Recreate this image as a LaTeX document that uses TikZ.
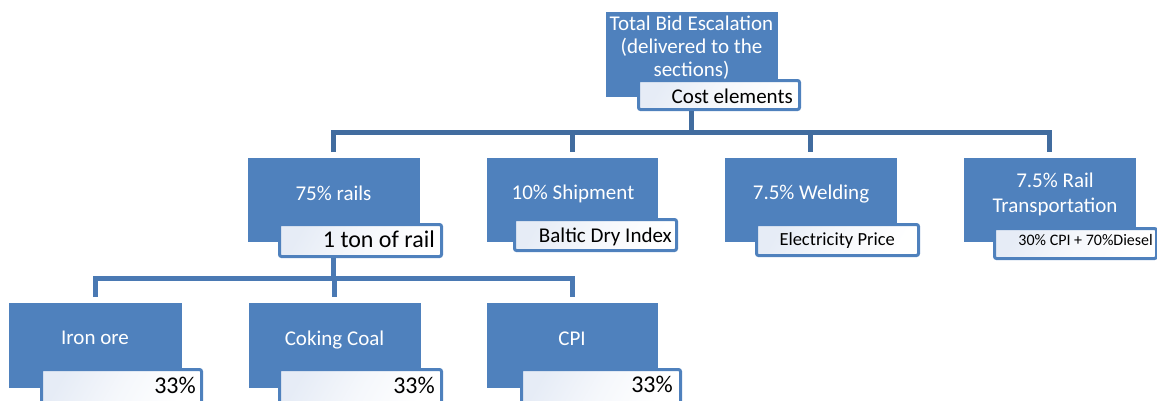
\documentclass[tikz,border=0pt]{standalone}
\usepackage{fontspec}
\setmainfont{Carlito}
\definecolor{boxblue}{HTML}{4F81BD}
\definecolor{busdark}{HTML}{416C9F}
\definecolor{buslight}{HTML}{4A79B3}
\definecolor{tagtint}{HTML}{E6ECF6}
\tikzset{
  box/.style={fill=boxblue, draw=white, line width=0.8pt, inner sep=0pt, anchor=north west},
  boxtext/.style={text=white, inner sep=0pt, font=\fontsize{21}{23}\selectfont},
  tag/.style={draw=boxblue, line width=3pt, rounded corners=2pt, inner sep=0pt,
    top color=tagtint, bottom color=white, middle color=tagtint!40, shading angle=60},
  tagtext/.style={text=black, inner sep=0pt, anchor=base east},
  busA/.style={draw=busdark, line width=5pt},
  busB/.style={draw=buslight, line width=5pt},
}
\begin{document}
\begin{tikzpicture}[x=1pt, y=-1pt]
\useasboundingbox (0,0) rectangle (1157,400);

% ---- top element ----
\node[box, minimum width=173pt, minimum height=86pt] (top) at (605,11) {};
\node[boxtext, anchor=base] (t1) at (691.5,30) {Total Bid Escalation};
\node[boxtext, anchor=base] (t2) at (691.5,53) {(delivered to the};
\node[boxtext, anchor=base] (t3) at (691.5,76) {sections)};
\node[tag, minimum width=161pt, minimum height=29pt] (tagTop) at (719,95) {};
\node[tagtext, font=\fontsize{21}{24}\selectfont] (tagTopT) at (793,103) {Cost elements};

% ---- cost elements ----
\node[box, minimum width=173pt, minimum height=85pt] (rails) at (247,157) {};
\node[box, minimum width=172pt, minimum height=85pt] (ship) at (486,157) {};
\node[box, minimum width=173pt, minimum height=85pt] (weld) at (724,157) {};
\node[box, minimum width=173pt, minimum height=85pt] (railtr) at (963,157) {};

\node[boxtext, anchor=base] (railsT) at (333.5,200) {75\% rails};
\node[boxtext, anchor=base] (shipT) at (573,199) {10\% Shipment};
\node[boxtext, anchor=base] (weldT) at (811,199) {7.5\% Welding};
\node[boxtext, anchor=base] (railtrT1) at (1055,187) {7.5\% Rail};
\node[boxtext, anchor=base] (railtrT2) at (1055,212) {Transportation};

\node[tag, minimum width=162pt, minimum height=32pt] (tagRails) at (360.5,240.5) {};
\node[tag, minimum width=162pt, minimum height=31pt] (tagShip) at (595.5,235) {};
\node[tag, minimum width=162pt, minimum height=31pt] (tagWeld) at (837.5,240) {};
\node[tag, minimum width=162pt, minimum height=30pt] (tagRailtr) at (1075.5,243.5) {};

\node[tagtext, font=\fontsize{24}{27}\selectfont] (tagRailsT) at (435,247) {1 ton of rail};
\node[tagtext, font=\fontsize{21}{24}\selectfont] (tagShipT) at (672,242) {Baltic Dry Index};
\node[tagtext, font=\fontsize{18.5}{21}\selectfont] (tagWeldT) at (895,245) {Electricity Price};
\node[tagtext, font=\fontsize{16}{19}\selectfont] (tagRailtrT) at (1153,245) {30\% CPI + 70\%Diesel};

% ---- rail components ----
\node[box, minimum width=174pt, minimum height=86pt] (iron) at (8,302) {};
\node[box, minimum width=173pt, minimum height=86pt] (coking) at (248,302) {};
\node[box, minimum width=172pt, minimum height=86pt] (cpi) at (486,302) {};

\node[boxtext, anchor=base] (ironT) at (95,344) {Iron ore};
\node[boxtext, anchor=base] (cokingT) at (334.5,345) {Coking Coal};
\node[boxtext, anchor=base] (cpiT) at (572,345) {CPI};

\node[tag, minimum width=160pt, minimum height=34pt] (tagIron) at (121.5,386.5) {};
\node[tag, minimum width=162pt, minimum height=34pt] (tagCoking) at (360.5,386.5) {};
\node[tag, minimum width=159pt, minimum height=34pt] (tagCpi) at (601,386.5) {};

\node[tagtext, font=\fontsize{24}{27}\selectfont] (tagIronT) at (196,393) {33\%};
\node[tagtext, font=\fontsize{24}{27}\selectfont] (tagCokingT) at (435,393) {33\%};
\node[tagtext, font=\fontsize{24}{27}\selectfont] (tagCpiT) at (673,392) {33\%};

% ---- connectors ----
\coordinate (busTop) at (691.5,132);
\coordinate (busRail) at (333.5,278);

\draw[busA] (top.south |- tagTop.south) -- (top.south |- busTop);
\draw[busA, line join=miter] ([yshift=5pt]rails.north) -- (rails.north |- busTop)
  -- (railtr.north |- busTop) -- ([yshift=5pt]railtr.north);
\draw[busA] (ship.north |- busTop) -- ([yshift=5pt]ship.north);
\draw[busA] (weld.north |- busTop) -- ([yshift=5pt]weld.north);

\draw[busB] (rails.south |- tagRails.south) -- (rails.south |- busRail);
\draw[busB, line join=miter] ([yshift=5pt]iron.north) -- (iron.north |- busRail)
  -- (cpi.north |- busRail) -- ([yshift=5pt]cpi.north);
\draw[busB] (coking.north |- busRail) -- ([yshift=5pt]coking.north);
\end{tikzpicture}
\end{document}
